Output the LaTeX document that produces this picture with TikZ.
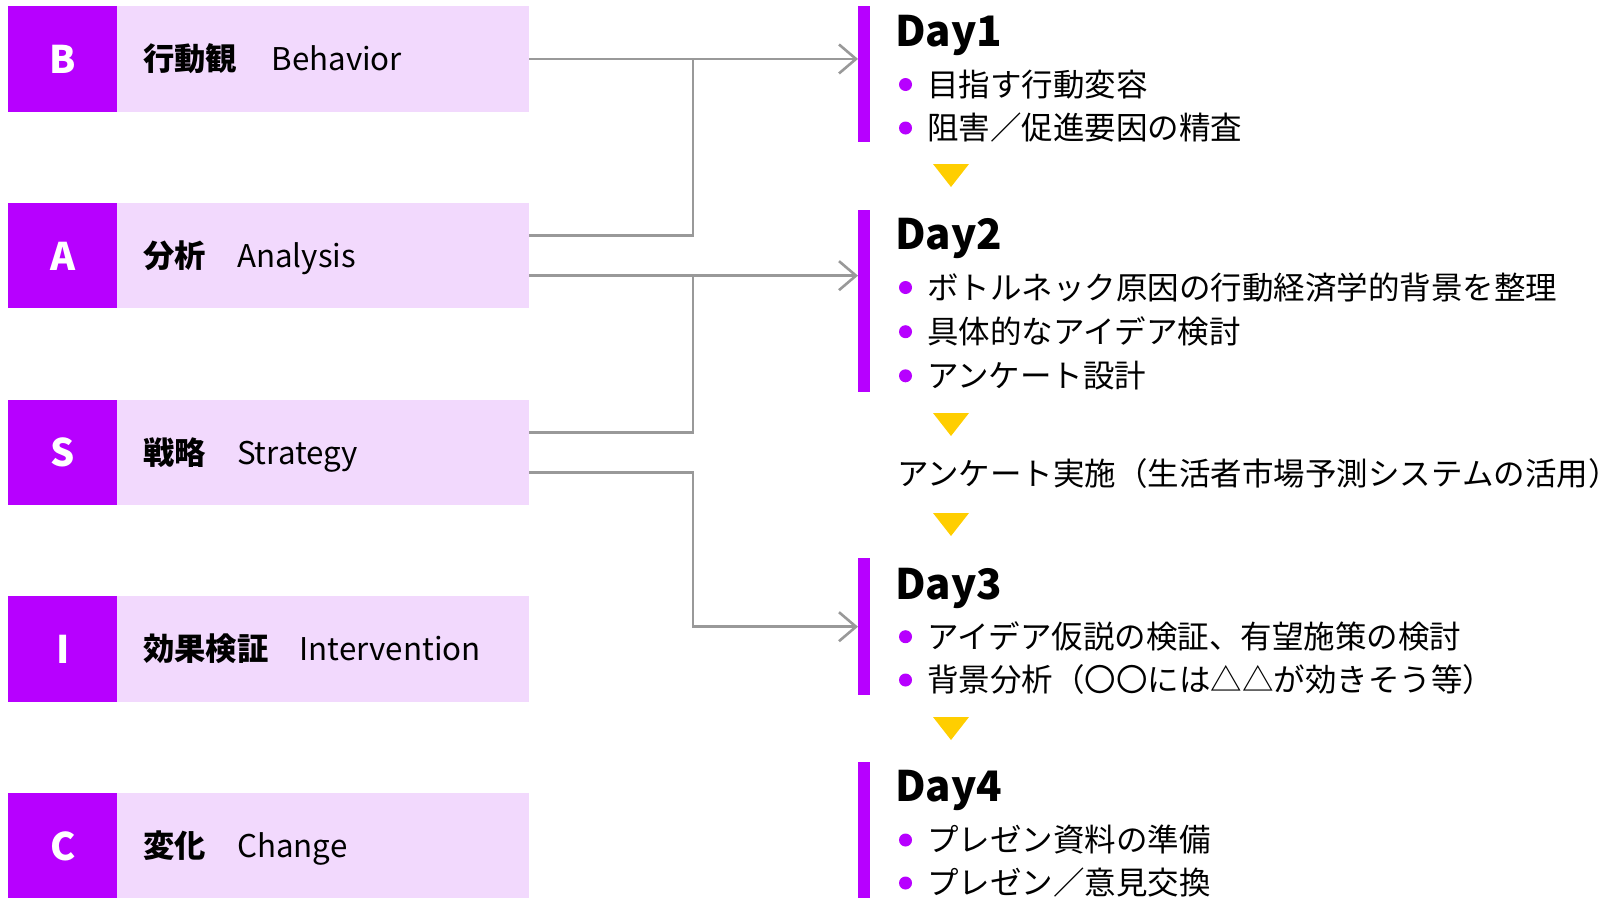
\documentclass[tikz,border=0pt]{standalone}
\usepackage{fontspec}
\setmainfont{Noto Sans CJK JP}
\usetikzlibrary{arrows.meta,calc}
\definecolor{vio}{RGB}{183,0,255}
\definecolor{pinkbg}{RGB}{242,217,253}
\definecolor{lineg}{RGB}{153,153,153}
\definecolor{triy}{RGB}{255,206,0}
\begin{document}
\begin{tikzpicture}[x=1pt,y=-1pt,
  letterbox/.style={fill=vio, text=white, minimum width=109pt, minimum height=105.5pt,
    inner sep=0pt, anchor=north west, font=\fontsize{38pt}{40pt}\selectfont\bfseries,
    text height=33.4pt, text depth=4.6pt},
  pinkbox/.style={fill=pinkbg, minimum width=412pt, minimum height=105.5pt, inner sep=0pt, anchor=north west},
  boxtext/.style={anchor=west, inner sep=0pt, font=\fontsize{31.3pt}{36pt}\selectfont,
    text height=27.5pt, text depth=3.8pt},
  daybar/.style={fill=vio, minimum width=12pt, inner sep=0pt, anchor=north west},
  daytitle/.style={anchor=west, inner sep=0pt, font=\fontsize{42pt}{46pt}\selectfont\bfseries,
    text height=37pt, text depth=5pt},
  item/.style={anchor=west, inner sep=0pt, font=\fontsize{31.5pt}{36pt}\selectfont,
    text height=27.7pt, text depth=3.8pt},
  conn/.style={draw=lineg, line width=2.6pt},
  arr/.style={-{Straight Barb[length=17pt,width=29pt]}},
  dot/.style={fill=vio},
  tri/.style={fill=triy}
]
\useasboundingbox (0,0) rectangle (1624,897);

% left boxes
\node[letterbox] (Bl) at (8,6) {B};
\node[pinkbox] (Bt) at (117,6) {};
\node[boxtext] (Bx) at (143,58.8) {{\bfseries 行動観}\hspace{1.1em}Behavior};

\node[letterbox] (Al) at (8,202.7) {A};
\node[pinkbox] (At) at (117,202.7) {};
\node[boxtext] (Ax) at (143,255.5) {{\bfseries 分析}\hspace{1em}Analysis};

\node[letterbox] (Sl) at (8,399.4) {S};
\node[pinkbox] (St) at (117,399.4) {};
\node[boxtext] (Sx) at (143,452.2) {{\bfseries 戦略}\hspace{1em}Strategy};

\node[letterbox] (Il) at (8,596.1) {I};
\node[pinkbox] (It) at (117,596.1) {};
\node[boxtext] (Ix) at (143,648.9) {{\bfseries 効果検証}\hspace{1em}Intervention};

\node[letterbox] (Cl) at (8,792.8) {C};
\node[pinkbox] (Ct) at (117,792.8) {};
\node[boxtext] (Cx) at (143,845.6) {{\bfseries 変化}\hspace{1em}Change};

% day bars
\node[daybar, minimum height=135.7pt] (D1) at (858,6) {};
\node[daybar, minimum height=181.7pt] (D2) at (858,210) {};
\node[daybar, minimum height=137pt] (D3) at (858,558) {};
\node[daybar, minimum height=140pt] (D4) at (858,762) {};

% Day 1
\node[daytitle] (T1) at (895,30) {Day1};
\fill[dot] (905.5,84.5) circle[radius=6.5pt];
\node[item] (i11) at (927,84.5) {目指す行動変容};
\fill[dot] (905.5,128) circle[radius=6.5pt];
\node[item] (i12) at (927,128) {阻害／促進要因の精査};
\fill[tri] (933,164) -- (969,164) -- (951,187) -- cycle;

% Day 2
\node[daytitle] (T2) at (895,233) {Day2};
\fill[dot] (905.5,287.5) circle[radius=6.5pt];
\node[item] (i21) at (927,287.5) {ボトルネック原因の行動経済学的背景を整理};
\fill[dot] (905.5,331.7) circle[radius=6.5pt];
\node[item] (i22) at (927,331.7) {具体的なアイデア検討};
\fill[dot] (905.5,375.8) circle[radius=6.5pt];
\node[item] (i23) at (927,375.8) {アンケート設計};
\fill[tri] (933,413) -- (969,413) -- (951,436) -- cycle;

\node[item] (sv) at (897,474) {アンケート実施（生活者市場予測システムの活用）};
\fill[tri] (933,513) -- (969,513) -- (951,536) -- cycle;

% Day 3
\node[daytitle] (T3) at (895,583) {Day3};
\fill[dot] (905.5,636.7) circle[radius=6.5pt];
\node[item] (i31) at (927,636.7) {アイデア仮説の検証、有望施策の検討};
\fill[dot] (905.5,680) circle[radius=6.5pt];
\node[item] (i32) at (927,680) {背景分析（〇〇には△△が効きそう等）};
\fill[tri] (933,717) -- (969,717) -- (951,740) -- cycle;

% Day 4
\node[daytitle] (T4) at (895,785.5) {Day4};
\fill[dot] (905.5,840) circle[radius=6.5pt];
\node[item] (i41) at (927,840) {プレゼン資料の準備};
\fill[dot] (905.5,883) circle[radius=6.5pt];
\node[item] (i42) at (927,883) {プレゼン／意見交換};

% connectors
\coordinate (vx) at (693,0);
\draw[conn,arr] (Bt.east) -- (Bt.east -| D1.west);
\draw[conn] ([yshift=20pt]At.east) -| (Bt.east -| vx);
\draw[conn,arr] ([yshift=-20pt]At.east) -- ([yshift=-20pt]At.east -| D2.west);
\draw[conn] ([yshift=20pt]St.east) -| ([yshift=-20pt]At.east -| vx);
\draw[conn,arr] ([yshift=-20pt]St.east) -| (vx |- D3.west) -- (D3.west);
\end{tikzpicture}
\end{document}
